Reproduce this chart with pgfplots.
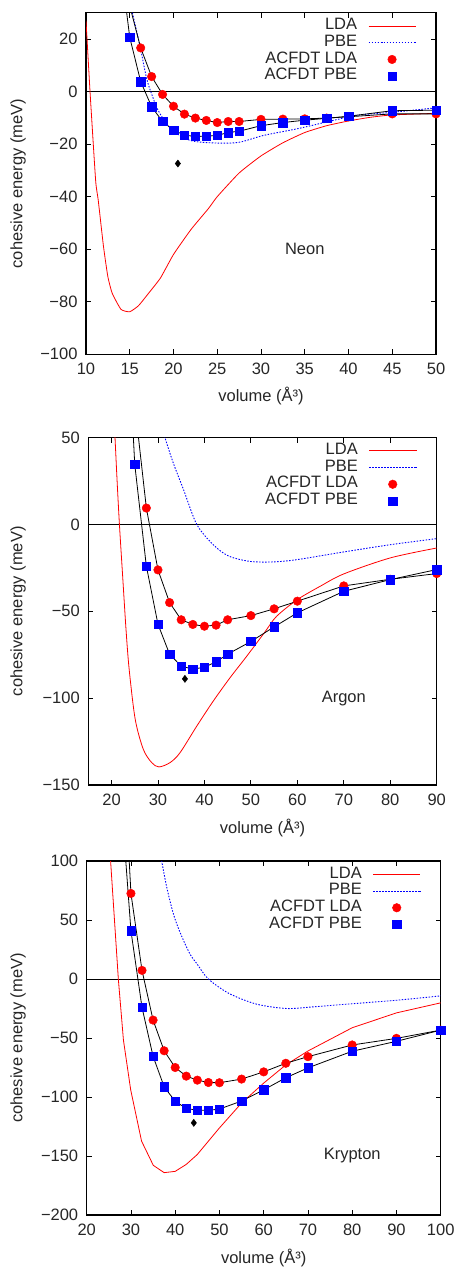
\documentclass[border=0pt]{standalone}
\usepackage{fontspec}
\setmainfont{Liberation Sans}
\usepackage{pgfplots}
\pgfplotsset{compat=1.18}
\newcommand{\fs}{\fontsize{16.5}{19}\selectfont}
\definecolor{txt}{gray}{0.15}
\pgfplotsset{
  panel/.style={
    scale only axis,
    axis line style={line width=1.1pt},
    every tick/.style={black, line width=0.8pt},
    major tick length=5pt,
    tick align=inside,
    xtick pos=both, ytick pos=both,
    font=\fs,
    /pgf/number format/assume math mode=true,
    xticklabel style={font=\fs, text=txt, yshift=-5pt},
    yticklabel style={font=\fs, text=txt, xshift=-5pt},
    xlabel={volume (Å³)},
    ylabel={cohesive energy (meV)},
    every axis x label/.style={at={(axis description cs:0.5,0)}, yshift=-42pt, anchor=center, font=\fs, text=txt},
    every axis y label/.style={rotate=90, anchor=center, font=\fs, text=txt},
    legend plot pos=right,
    legend cell align=right,
    legend style={at={(axis description cs:1,1)}, anchor=north east, xshift=-20pt, yshift=-5pt, draw=none, fill=none, inner sep=0pt, outer sep=0pt, column sep=11pt, row sep=0pt, font=\fs, text=txt, nodes={inner sep=0pt, text height=12pt, text depth=4.7pt}},
    legend image code/.code={\draw[mark repeat=2,mark phase=2,##1] plot coordinates {(0pt,0pt) (23.5pt,0pt) (47pt,0pt)};},
  },
  ldaline/.style={red, line width=0.8pt},
  pbeline/.style={blue, line width=0.9pt, dash pattern=on 1.5pt off 1.5pt},
  conn/.style={black, line width=0.8pt, forget plot},
  ldamark/.style={only marks, mark=*, mark size=4.3pt, color=red, mark options={fill=red, draw=red}},
  pbemark/.style={only marks, mark=square*, mark size=4.2pt, color=blue, mark options={fill=blue, draw=blue}},
  expmark/.style={only marks, mark=diamond*, mark size=3.6pt, black, forget plot},
}
\begin{document}
\begin{tikzpicture}
\useasboundingbox (0pt,0pt) rectangle (458pt,-1267pt);

% ---------------- Neon ----------------
\begin{axis}[panel,
  at={(86pt,-354.3pt)}, anchor=south west,
  width=350pt, height=341.6pt,
  xmin=10, xmax=50, ymin=-100, ymax=30,
  xtick={10,15,...,50},
  ytick={-100,-80,-60,-40,-20,0,20},
  yticklabels={−100,−80,−60,−40,−20,0,20},
  every axis y label/.append style={at={(axis description cs:-0.1943,0.5)}},
]
\addplot[black, line width=0.8pt, forget plot] coordinates {(10,0) (50,0)};
\addplot[ldaline, smooth, tension=0.3] coordinates {
(10,27) (10.46,0) (11.1,-33.8) (11.4,-41.4) (12,-59) (12.5,-70.5) (13,-76.8) (14,-82.9) (15,-83.8) (16,-81.5) (17,-77.4) (18.5,-71) (20,-62) (22,-52.5) (24,-44.5) (25,-40) (27.5,-31) (30,-24.5) (32.5,-19.5) (35,-15.6) (37.5,-13) (40,-11.2) (42.5,-9.8) (45,-8.9) (50,-8.3)};
\addlegendentry{LDA}
\addplot[pbeline, smooth, tension=0.5] coordinates {
(15.0,34.4) (15.3,30) (16.2,16.8) (16.9,5.4) (17.4,0) (18.3,-7.5) (19.8,-14.5) (21.9,-18.6) (24.9,-19.6) (27.5,-19.3) (30.3,-16.7) (34.1,-14.2) (37.5,-11.6) (40.9,-9.1) (45,-7.9) (50,-6.2)};
\addlegendentry{PBE}
\addplot[conn] coordinates {
(15,32.6) (16.25,16.6) (17.5,5.7) (18.75,-1.1) (20,-5.6) (21.25,-8.6) (22.5,-10.1) (23.75,-11.0) (25,-11.8) (26.25,-11.4) (27.5,-11.4) (30,-10.6) (32.5,-10.5) (35,-10.4) (37.5,-10.1) (40,-9.6) (45,-8.5) (50,-8.5)};
\addplot[conn] coordinates {
(13.75,54) (15,20.6) (16.25,3.8) (17.5,-5.8) (18.75,-11.4) (20,-14.7) (21.25,-16.6) (22.5,-17.1) (23.75,-17.0) (25,-16.7) (26.25,-15.6) (27.5,-15.1) (30,-13.0) (32.5,-11.8) (35,-10.9) (37.5,-10.2) (40,-9.4) (45,-7.3) (50,-7.1)};
\addplot[ldamark] coordinates {
(16.25,16.6) (17.5,5.7) (18.75,-1.1) (20,-5.6) (21.25,-8.6) (22.5,-10.1) (23.75,-11.0) (25,-11.8) (26.25,-11.4) (27.5,-11.4) (30,-10.6) (32.5,-10.5) (35,-10.4) (37.5,-10.1) (40,-9.6) (45,-8.5) (50,-8.5)};
\addlegendentry{ACFDT LDA}
\addplot[pbemark] coordinates {
(15,20.6) (16.25,3.8) (17.5,-5.8) (18.75,-11.4) (20,-14.7) (21.25,-16.6) (22.5,-17.1) (23.75,-17.0) (25,-16.7) (26.25,-15.6) (27.5,-15.1) (30,-13.0) (32.5,-11.8) (35,-10.9) (37.5,-10.2) (40,-9.4) (45,-7.3) (50,-7.1)};
\addlegendentry{ACFDT PBE}
\addplot[expmark] coordinates {(20.5,-27.4)};
\node[font=\fs, text=txt] at (axis cs:35,-60) {Neon};
\end{axis}

% ---------------- Argon ----------------
\begin{axis}[panel,
  at={(88.3pt,-785pt)}, anchor=south west,
  width=348.4pt, height=347.5pt,
  xmin=15, xmax=90, ymin=-150, ymax=50,
  xtick={20,30,...,90},
  ytick={-150,-100,-50,0,50},
  yticklabels={−150,−100,−50,0,50},
  every axis y label/.append style={at={(axis description cs:-0.2018,0.5)}},
  every axis x label/.append style={yshift=-1.3pt},
]
\addplot[black, line width=0.8pt, forget plot] coordinates {(15,0) (90,0)};
\addplot[ldaline, smooth, tension=0.5] coordinates {
(20.6,58) (20.75,50) (21.2,25) (21.7,0) (22.4,-30) (23.12,-60.5) (23.8,-83.5) (25.1,-112.2) (26.85,-129.5) (28.65,-137.1) (30.2,-139.6) (32.6,-137.1) (34.75,-131.4) (38.35,-116.1) (41.9,-101.7) (45.5,-88.3) (49.1,-75.9) (53,-62) (55.5,-53) (60,-43.3) (65,-35.5) (70,-28.5) (80,-19.3) (90,-13.6)};
\addlegendentry{LDA}
\addplot[pbeline, smooth, tension=0.5] coordinates {
(31.0,56) (31.5,50) (33.3,35.3) (35.5,20) (38.35,0) (41.9,-11.7) (45.2,-18.2) (49.8,-21.3) (54.8,-21.6) (59.9,-20.3) (69.9,-15.9) (80,-11.7) (90,-8.2)};
\addlegendentry{PBE}
\addplot[conn] coordinates {
(25,69.1) (27.5,9.4) (30,-26.2) (32.5,-45.0) (35,-54.9) (37.5,-57.6) (40,-58.6) (42.5,-58.0) (45,-54.9) (50,-52.5) (55,-48.6) (60,-44.2) (70,-35.4) (80,-31.6) (90,-28.3)};
\addplot[conn] coordinates {
(22.5,163.7) (25,34.5) (27.5,-24.1) (30,-57.5) (32.5,-74.7) (35,-81.6) (37.5,-83.3) (40,-82.2) (42.5,-79.1) (45,-74.7) (50,-67.4) (55,-59.0) (60,-50.9) (70,-38.5) (80,-31.8) (90,-26.0)};
\addplot[ldamark] coordinates {
(27.5,9.4) (30,-26.2) (32.5,-45.0) (35,-54.9) (37.5,-57.6) (40,-58.6) (42.5,-58.0) (45,-54.9) (50,-52.5) (55,-48.6) (60,-44.2) (70,-35.4) (80,-31.6) (90,-28.3)};
\addlegendentry{ACFDT LDA}
\addplot[pbemark] coordinates {
(25,34.5) (27.5,-24.1) (30,-57.5) (32.5,-74.7) (35,-81.6) (37.5,-83.3) (40,-82.2) (42.5,-79.1) (45,-74.7) (50,-67.4) (55,-59.0) (60,-50.9) (70,-38.5) (80,-31.8) (90,-26.0)};
\addlegendentry{ACFDT PBE}
\addplot[expmark] coordinates {(35.8,-88.9)};
\node[font=\fs, text=txt] at (axis cs:70,-100) {Argon};
\end{axis}

% ---------------- Krypton ----------------
\begin{axis}[panel,
  at={(86.7pt,-1215pt)}, anchor=south west,
  width=354pt, height=354pt,
  xmin=20, xmax=100, ymin=-200, ymax=100,
  xtick={20,30,...,100},
  ytick={-200,-150,-100,-50,0,50,100},
  yticklabels={−200,−150,−100,−50,0,50,100},
  every axis y label/.append style={at={(axis description cs:-0.194,0.5)}},
  every axis x label/.append style={yshift=-1.3pt},
]
\addplot[black, line width=0.8pt, forget plot] coordinates {(20,0) (100,0)};
\addplot[ldaline] coordinates {
(25.2,112) (25.4,100) (27.15,0) (28.3,-51.7) (29.94,-93.9) (32.4,-137.4) (35.05,-157.9) (37.5,-164.1) (40,-163) (42.5,-157.1) (45,-148.7) (50,-126.2) (55,-105.1) (60,-88.2) (65,-72.8) (70,-61) (80,-41.3) (90,-28.7) (100,-20.2)};
\addlegendentry{LDA}
\addplot[pbeline, smooth, tension=0.5] coordinates {
(36.6,108) (36.95,100) (38.1,77.6) (39.6,55.1) (41.1,39.5) (43.3,21.4) (44.9,13) (47.5,0) (52.2,-12.3) (58.4,-21.3) (65.2,-25) (71.2,-23.6) (78.8,-21.3) (90,-18) (100,-14.3)};
\addlegendentry{PBE}
\addplot[conn] coordinates {
(27.5,248) (30,72.5) (32.5,7.3) (35,-34.8) (37.5,-60.8) (40,-75.0) (42.5,-82.3) (45,-85.7) (47.5,-87.7) (50,-87.9) (55,-84.8) (60,-78.7) (65,-71.4) (70,-65.8) (80,-55.9) (90,-50.3) (100,-43.3)};
\addplot[conn] coordinates {
(27.5,167.7) (30,40.8) (32.5,-24.1) (35,-65.5) (37.5,-91.3) (40,-103.7) (42.5,-109.6) (45,-111.3) (47.5,-111.3) (50,-110.2) (55,-103.4) (60,-93.9) (65,-83.7) (70,-75.3) (80,-61.2) (90,-52.8) (100,-43.3)};
\addplot[ldamark] coordinates {
(30,72.5) (32.5,7.3) (35,-34.8) (37.5,-60.8) (40,-75.0) (42.5,-82.3) (45,-85.7) (47.5,-87.7) (50,-87.9) (55,-84.8) (60,-78.7) (65,-71.4) (70,-65.8) (80,-55.9) (90,-50.3) (100,-43.3)};
\addlegendentry{ACFDT LDA}
\addplot[pbemark] coordinates {
(30,40.8) (32.5,-24.1) (35,-65.5) (37.5,-91.3) (40,-103.7) (42.5,-109.6) (45,-111.3) (47.5,-111.3) (50,-110.2) (55,-103.4) (60,-93.9) (65,-83.7) (70,-75.3) (80,-61.2) (90,-52.8) (100,-43.3)};
\addlegendentry{ACFDT PBE}
\addplot[expmark] coordinates {(44.2,-121.9)};
\node[font=\fs, text=txt] at (axis cs:80,-150) {Krypton};
\end{axis}
\end{tikzpicture}
\end{document}
